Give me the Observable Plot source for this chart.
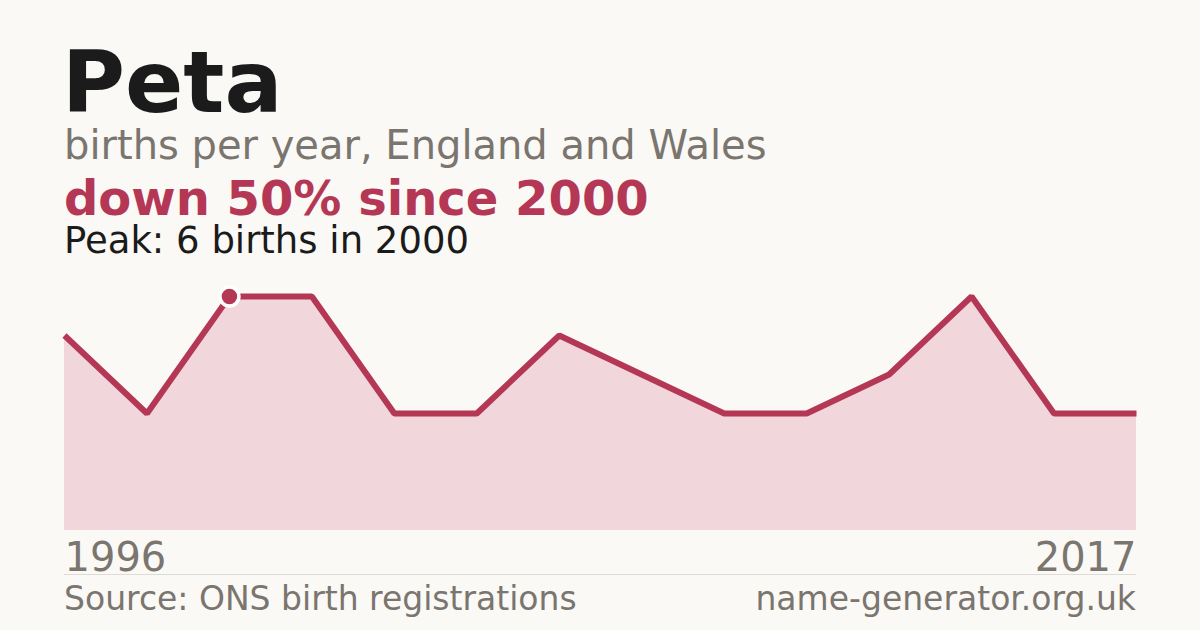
<!DOCTYPE html>
<html>
<head>
<meta charset="utf-8">
<script src="https://cdn.jsdelivr.net/npm/d3@7"></script>
<script src="https://cdn.jsdelivr.net/npm/@observablehq/plot@0.6"></script>
<style>
  html, body { margin: 0; padding: 0; background: #faf9f5; }
  #wrap { position: relative; width: 1200px; height: 630px; overflow: hidden; font-family: "DejaVu Sans", sans-serif; background: #faf9f5; }
  .t { position: absolute; line-height: 0.9; white-space: nowrap; }
  #chart { position: absolute; left: 0; top: 270px; }
</style>
</head>
<body>
<div id="wrap">
  <div class="t" id="title" style="left:62px; top:44px; font-size:86px; font-weight:bold; color:#1b1b1b;"></div>
  <div class="t" id="subtitle" style="left:64px; top:127px; font-size:40px; color:#7a756e;"></div>
  <div class="t" id="headline" style="left:64px; top:177px; font-size:48px; font-weight:bold; color:#b43855;"></div>
  <div class="t" id="peak" style="left:64px; top:224px; font-size:37px; color:#1b1b1b;"></div>
  <div id="chart"></div>
  <div style="position:absolute; left:64px; top:574px; width:1072px; height:1px; background:#dedbd5;"></div>
  <div class="t" id="source" style="left:64px; top:584px; font-size:33px; color:#7a756e;"></div>
  <div class="t" id="site" style="right:64px; top:584px; font-size:33px; color:#7a756e;"></div>
</div>
<script>
const name = "Peta";
const years = [1996, 1998, 2000, 2001, 2003, 2004, 2006, 2007, 2009, 2010, 2012, 2014, 2016, 2017];
const births = [5, 3, 6, 6, 3, 3, 5, 4, 3, 3, 4, 6, 3, 3];
const subtitleText = "births per year, England and Wales";
const sourceText = "Source: ONS birth registrations";
const siteText = "name-generator.org.uk";

const data = years.map((y, i) => ({ i, year: y, births: births[i] }));
const peakIdx = births.indexOf(d3.max(births));
const peak = data[peakIdx];
const first = data[0];
const last = data[data.length - 1];
const change = Math.round((last.births - peak.births) / peak.births * 100);

document.getElementById("title").textContent = name;
document.getElementById("subtitle").textContent = subtitleText;
document.getElementById("headline").textContent = (change < 0 ? "down " : "up ") + Math.abs(change) + "% since " + peak.year;
document.getElementById("peak").textContent = `Peak: ${peak.births} births in ${peak.year}`;
document.getElementById("source").textContent = sourceText;
document.getElementById("site").textContent = siteText;

const crimson = "#b43855";
const gray = "#7a756e";

const chart = Plot.plot({
  width: 1200,
  height: 320,
  marginLeft: 64,
  marginRight: 64,
  marginTop: 26,
  marginBottom: 60,
  style: { background: "transparent", fontFamily: "DejaVu Sans, sans-serif" },
  x: { type: "linear", domain: [0, years.length - 1], axis: null },
  y: { domain: [0, d3.max(births)], axis: null },
  marks: [
    Plot.areaY(data, { x: "i", y: "births", fill: "#f1d6db" }),
    Plot.lineY(data, { x: "i", y: "births", stroke: crimson, strokeWidth: 6, strokeLinejoin: "miter", strokeLinecap: "butt" }),
    Plot.dot([peak], { x: "i", y: "births", r: 9.5, fill: crimson, stroke: "#ffffff", strokeWidth: 3.5 }),
    Plot.text([first], {
      x: "i", y: 0, text: d => String(d.year),
      textAnchor: "start", lineAnchor: "bottom", dy: 40, fontSize: 40, fill: gray
    }),
    Plot.text([last], {
      x: "i", y: 0, text: d => String(d.year),
      textAnchor: "end", lineAnchor: "bottom", dy: 40, fontSize: 40, fill: gray
    })
  ]
});
document.getElementById("chart").appendChild(chart);
</script>
</body>
</html>
